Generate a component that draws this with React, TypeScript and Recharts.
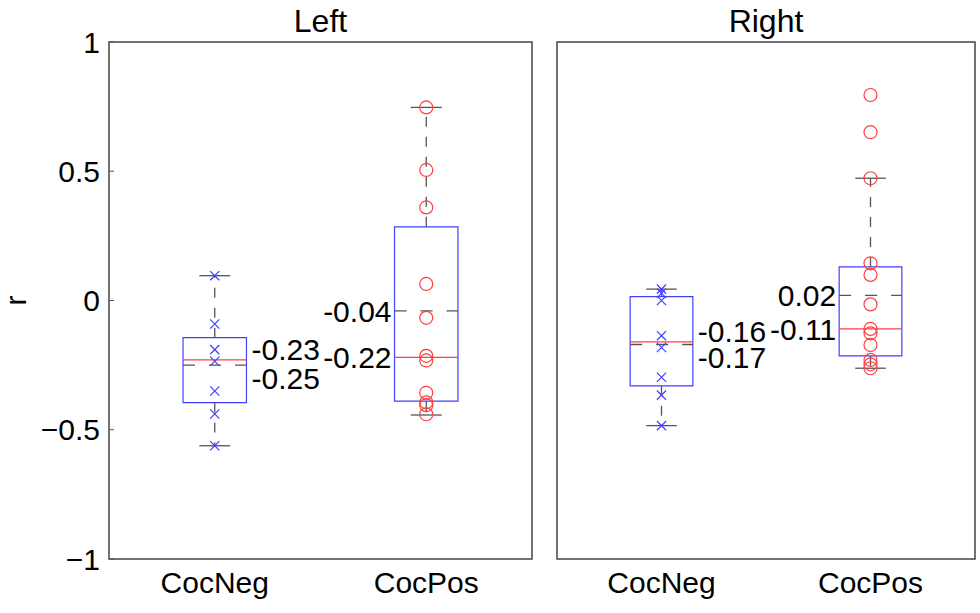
import React from "react";
import { ComposedChart, XAxis, YAxis, Scatter, ReferenceArea, ReferenceLine } from "recharts";

const CATEGORIES = ["CocNeg", "CocPos"];
const Y_TICKS = [-1, -0.5, 0, 0.5, 1];

// Left hemisphere
const LEFT_NEG = [0.096, -0.091, -0.19, -0.235, -0.35, -0.439, -0.562];
const LEFT_POS = [0.747, 0.505, 0.36, 0.064, -0.067, -0.214, -0.232, -0.357, -0.394, -0.405, -0.44];
const LEFT_Q1 = [-0.395, -0.389];
const LEFT_Q3 = [-0.144, 0.285];
const LEFT_LO = [-0.562, -0.443];
const LEFT_HI = [0.096, 0.747];
const LEFT_MEDIAN = [-0.23, -0.22];
const LEFT_MEAN = [-0.25, -0.04];

// Right hemisphere
const RIGHT_NEG = [0.044, 0.028, 0.0, -0.136, -0.182, -0.297, -0.366, -0.484];
const RIGHT_POS = [0.795, 0.651, 0.473, 0.144, 0.099, -0.015, -0.11, -0.127, -0.172, -0.23, -0.247, -0.262];
const RIGHT_Q1 = [-0.33, -0.214];
const RIGHT_Q3 = [0.015, 0.13];
const RIGHT_LO = [-0.484, -0.262];
const RIGHT_HI = [0.044, 0.473];
const RIGHT_MEDIAN = [-0.16, -0.11];
const RIGHT_MEAN = [-0.17, 0.02];

const FONT = '"Liberation Sans", Arial, Helvetica, sans-serif';
const BLUE = "#4040ff";
const RED = "#ff4040";
const GREY = "#555";
const BOX_HALF = 0.15;
const CAP_HALF = 0.073;
const H = 613;
const TOP = 42;
const BOTTOM = 54;
const NOTE_SIZE = 30;

const fmtTick = (v: number) => (v < 0 ? "\u2212" + Math.abs(v) : String(v));

const XMark = (p: any) => {
  const { cx, cy } = p;
  const s = 4.6;
  return (
    <path
      d={`M${cx - s},${cy - s}L${cx + s},${cy + s}M${cx - s},${cy + s}L${cx + s},${cy - s}`}
      stroke={BLUE}
      strokeWidth={1.2}
      fill="none"
    />
  );
};

const OMark = (p: any) => <circle cx={p.cx} cy={p.cy} r={6.5} stroke={RED} strokeWidth={1.2} fill="none" />;

type PanelProps = {
  title: string;
  neg: number[];
  pos: number[];
  q1: number[];
  q3: number[];
  lo: number[];
  hi: number[];
  median: number[];
  mean: number[];
  showLabels: boolean;
  left: number;
  width: number;
  axisW: number;
  marginR: number;
};

function Panel({ title, neg, pos, q1, q3, lo, hi, median, mean, showLabels, left, width, axisW, marginR }: PanelProps) {
  const plotW = width - axisW - marginR;
  const halfPx = (BOX_HALF * plotW) / 2;
  const labels = [0, 1].flatMap((i) => [
    { x: i + 1, y: median[i], text: median[i].toFixed(2), role: "median" },
    { x: i + 1, y: mean[i], text: mean[i].toFixed(2), role: "mean" },
  ]);

  const renderLabel = (p: any) => {
    const { cx, cy, payload } = p;
    if (payload.x === 1) {
      const y = payload.role === "median" ? cy : cy + 24;
      return (
        <text x={cx + halfPx + 5} y={y} textAnchor="start" fontSize={NOTE_SIZE} fill="#000" fontFamily={FONT}>
          {payload.text}
        </text>
      );
    }
    return (
      <text
        x={cx - halfPx - 3}
        y={cy}
        dy="0.36em"
        textAnchor="end"
        fontSize={NOTE_SIZE}
        fill="#000"
        fontFamily={FONT}
      >
        {payload.text}
      </text>
    );
  };

  return (
    <div style={{ position: "absolute", left, top: 0, width, height: H }}>
      <div
        style={{
          position: "absolute",
          left: axisW,
          width: plotW,
          top: 5,
          textAlign: "center",
          fontSize: 32,
          lineHeight: "32px",
          fontFamily: FONT,
        }}
      >
        {title}
      </div>
      <ComposedChart width={width} height={H} margin={{ top: TOP, right: marginR, left: 0, bottom: 0 }}>
        <XAxis
          dataKey="x"
          type="number"
          domain={[0.5, 2.5]}
          allowDataOverflow
          ticks={[1, 2]}
          tickFormatter={(v: number) => CATEGORIES[v - 1]}
          tickLine={false}
          axisLine={false}
          height={BOTTOM}
          tickMargin={7}
          tick={{ fill: "#000", fontSize: 30, fontFamily: FONT }}
        />
        <YAxis
          type="number"
          domain={[-1, 1]}
          allowDataOverflow
          ticks={Y_TICKS}
          width={axisW}
          axisLine={false}
          tickSize={-5}
          tickMargin={14}
          tickLine={{ stroke: GREY }}
          tick={showLabels ? { fill: "#000", fontSize: 30, fontFamily: FONT } : false}
          tickFormatter={fmtTick}
          label={
            showLabels
              ? {
                  value: "r",
                  content: (lp: any) => {
                    const vb = lp.viewBox;
                    const x = vb.x + 26;
                    const y = vb.y + vb.height / 2;
                    return (
                      <text
                        x={x}
                        y={y}
                        transform={`rotate(-90 ${x} ${y})`}
                        textAnchor="middle"
                        fontSize={30}
                        fontFamily={FONT}
                        fill="#000"
                      >
                        r
                      </text>
                    );
                  },
                }
              : undefined
          }
        />
        <YAxis
          yAxisId="r"
          orientation="right"
          type="number"
          domain={[-1, 1]}
          allowDataOverflow
          ticks={Y_TICKS}
          width={0}
          axisLine={false}
          tickSize={-5}
          tickLine={{ stroke: GREY }}
          tick={false}
        />

        <ReferenceArea x1={0.5} x2={2.5} y1={-1} y2={1} fill="none" stroke="#444" strokeWidth={1.5} />

        {[0, 1].map((i) => (
          <ReferenceLine
            key={`wu${i}`}
            segment={[
              { x: i + 1, y: q3[i] },
              { x: i + 1, y: hi[i] },
            ]}
            stroke={GREY}
            strokeWidth={1.3}
            strokeDasharray="10 10"
          />
        ))}
        {[0, 1].map((i) => (
          <ReferenceLine
            key={`wl${i}`}
            segment={[
              { x: i + 1, y: q1[i] },
              { x: i + 1, y: lo[i] },
            ]}
            stroke={GREY}
            strokeWidth={1.3}
            strokeDasharray="10 10"
          />
        ))}
        {[0, 1].map((i) => (
          <ReferenceLine
            key={`ch${i}`}
            segment={[
              { x: i + 1 - CAP_HALF, y: hi[i] },
              { x: i + 1 + CAP_HALF, y: hi[i] },
            ]}
            stroke={GREY}
            strokeWidth={1.3}
          />
        ))}
        {[0, 1].map((i) => (
          <ReferenceLine
            key={`cl${i}`}
            segment={[
              { x: i + 1 - CAP_HALF, y: lo[i] },
              { x: i + 1 + CAP_HALF, y: lo[i] },
            ]}
            stroke={GREY}
            strokeWidth={1.3}
          />
        ))}
        {[0, 1].map((i) => (
          <ReferenceArea
            key={`box${i}`}
            x1={i + 1 - BOX_HALF}
            x2={i + 1 + BOX_HALF}
            y1={q1[i]}
            y2={q3[i]}
            fill="none"
            fillOpacity={0}
            stroke={BLUE}
            strokeWidth={1.2}
          />
        ))}
        {[0, 1].map((i) => (
          <ReferenceLine
            key={`mn${i}`}
            segment={[
              { x: i + 1 - BOX_HALF, y: mean[i] },
              { x: i + 1 + BOX_HALF, y: mean[i] },
            ]}
            stroke={GREY}
            strokeWidth={1.4}
            strokeDasharray="12 14"
          />
        ))}
        {[0, 1].map((i) => (
          <ReferenceLine
            key={`md${i}`}
            segment={[
              { x: i + 1 - BOX_HALF, y: median[i] },
              { x: i + 1 + BOX_HALF, y: median[i] },
            ]}
            stroke={RED}
            strokeWidth={1.2}
          />
        ))}

        <Scatter data={neg.map((v) => ({ x: 1, y: v }))} dataKey="y" shape={XMark} isAnimationActive={false} />
        <Scatter data={pos.map((v) => ({ x: 2, y: v }))} dataKey="y" shape={OMark} isAnimationActive={false} />
        <Scatter data={labels} dataKey="y" shape={renderLabel} isAnimationActive={false} />
      </ComposedChart>
    </div>
  );
}

export default function App() {
  return (
    <div
      style={{
        position: "absolute",
        left: 0,
        top: 0,
        width: 980,
        height: H,
        background: "#fff",
        fontFamily: FONT,
      }}
    >
      <Panel
        title="Left"
        neg={LEFT_NEG}
        pos={LEFT_POS}
        q1={LEFT_Q1}
        q3={LEFT_Q3}
        lo={LEFT_LO}
        hi={LEFT_HI}
        median={LEFT_MEDIAN}
        mean={LEFT_MEAN}
        showLabels
        left={0}
        width={545}
        axisW={109}
        marginR={13}
      />
      <Panel
        title="Right"
        neg={RIGHT_NEG}
        pos={RIGHT_POS}
        q1={RIGHT_Q1}
        q3={RIGHT_Q3}
        lo={RIGHT_LO}
        hi={RIGHT_HI}
        median={RIGHT_MEDIAN}
        mean={RIGHT_MEAN}
        showLabels={false}
        left={545}
        width={435}
        axisW={12}
        marginR={5}
      />
    </div>
  );
}
